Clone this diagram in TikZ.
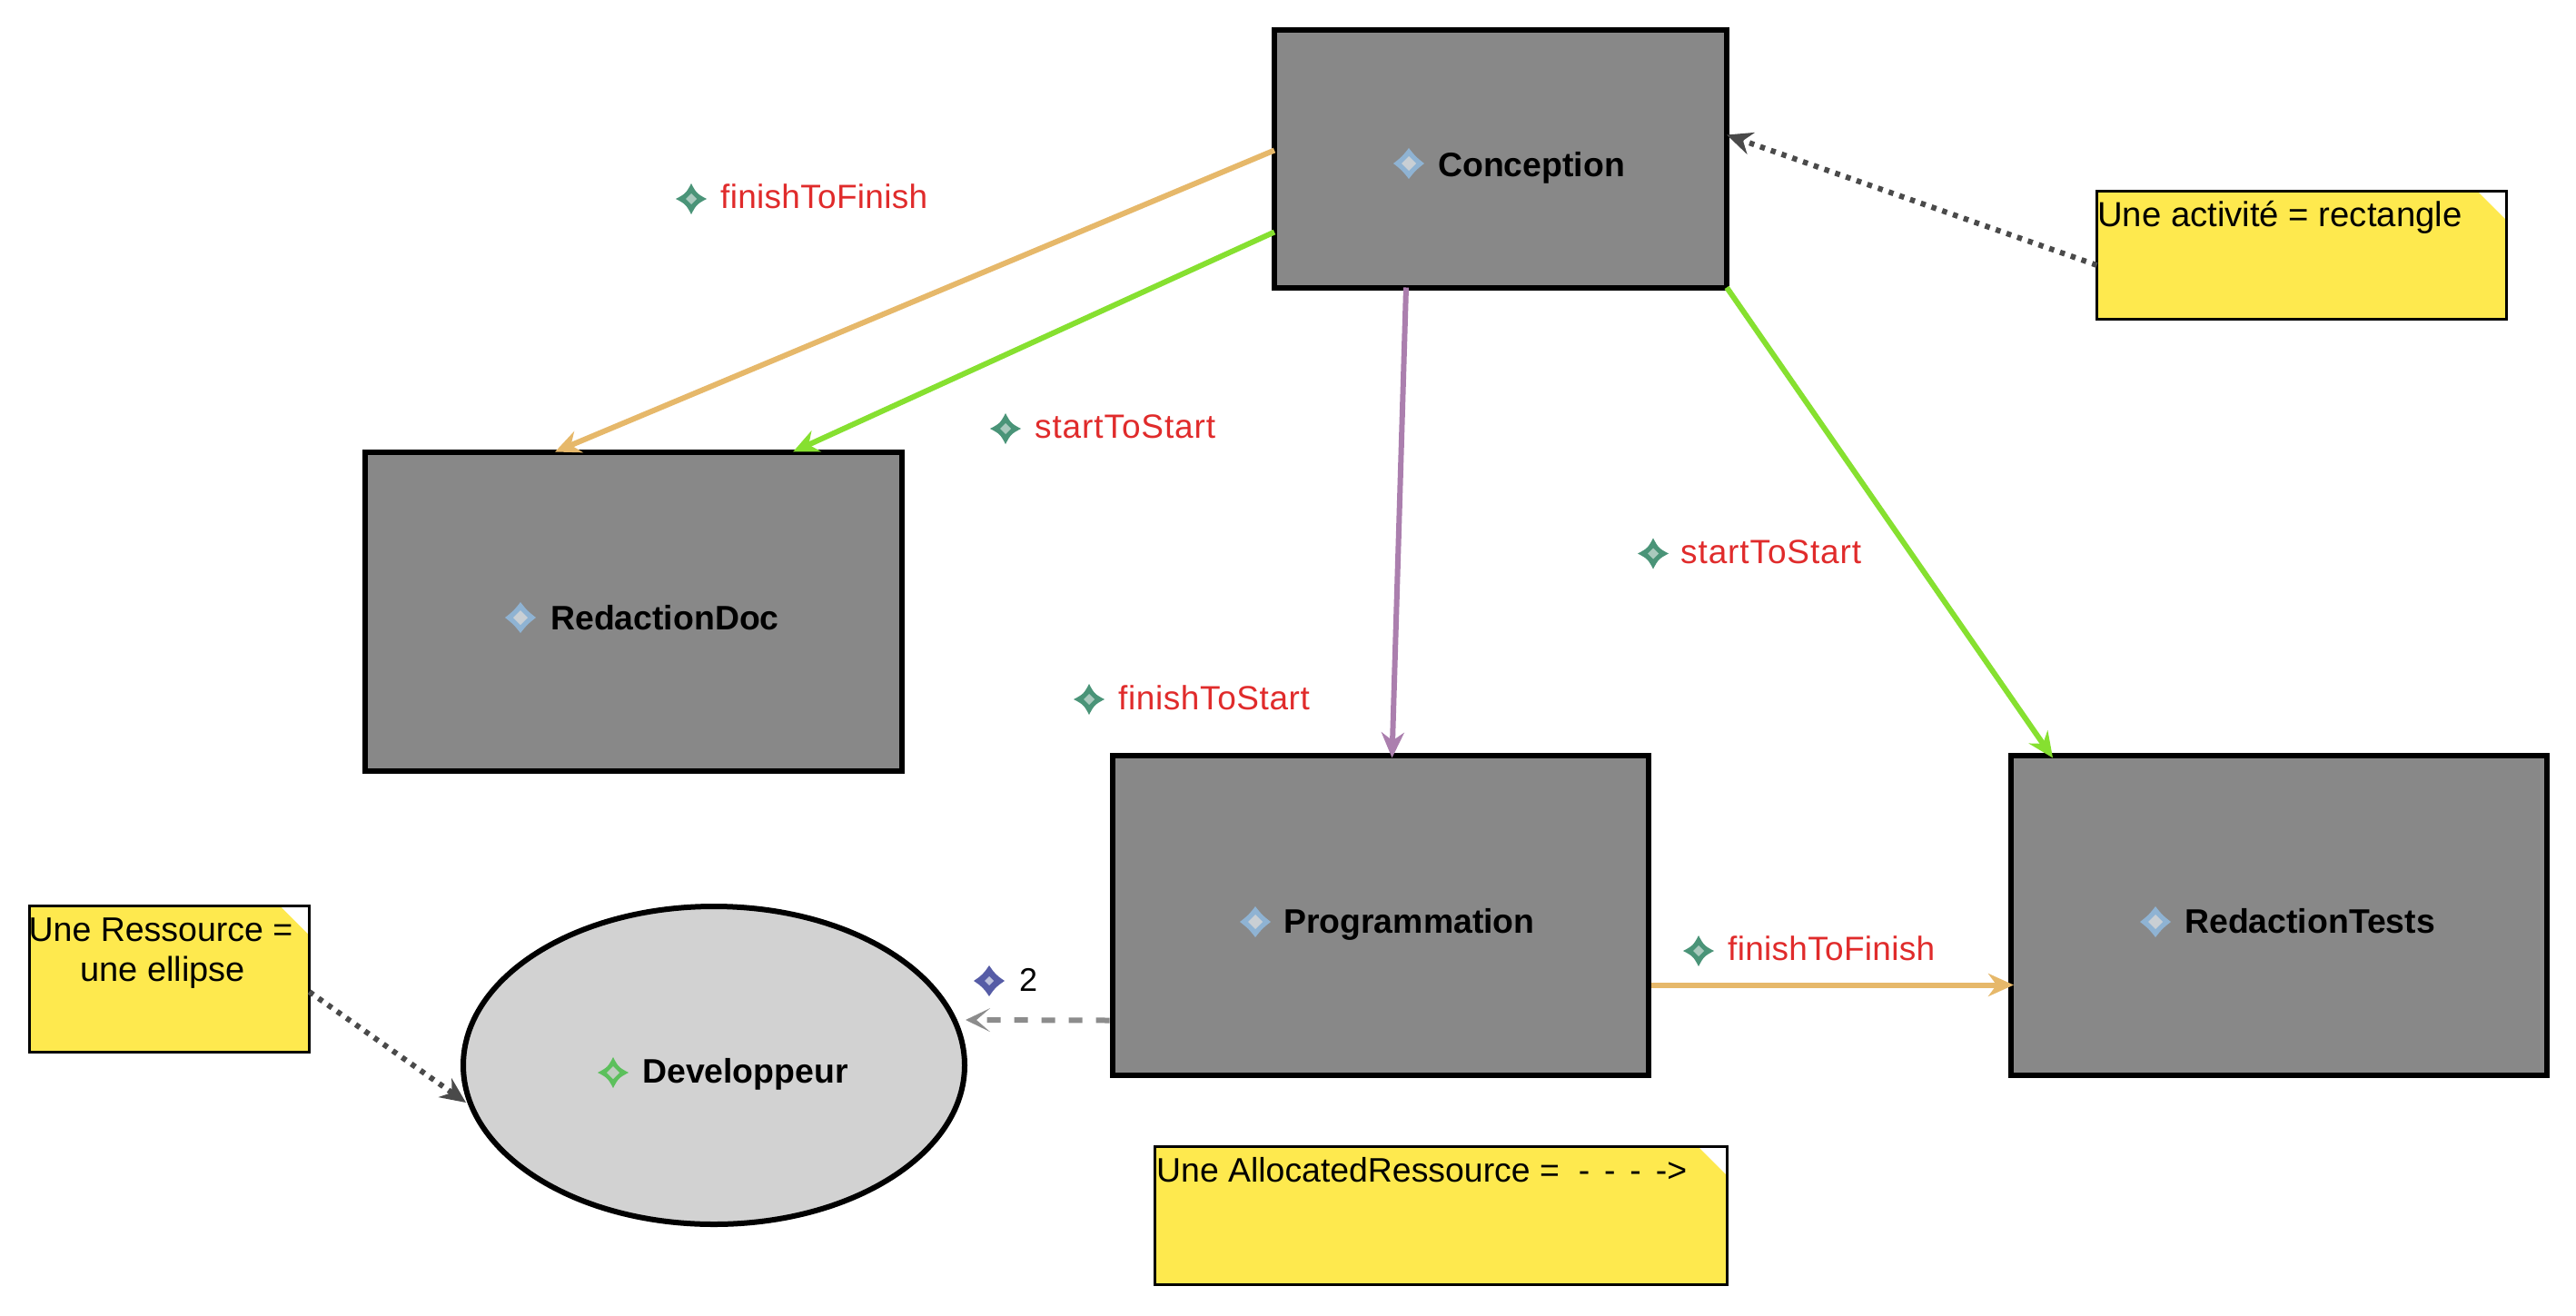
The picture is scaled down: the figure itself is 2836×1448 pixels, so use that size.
\documentclass[tikz,border=0pt]{standalone}
\usepackage{fontspec}
\setmainfont{Liberation Sans}
\usetikzlibrary{arrows.meta,shapes.geometric,calc}
\definecolor{actgray}{HTML}{888888}
\definecolor{resgray}{HTML}{D2D2D2}
\definecolor{noteyellow}{HTML}{FEE94E}
\definecolor{linkorange}{HTML}{E6B86A}
\definecolor{linkgreen}{HTML}{86E030}
\definecolor{linkpurple}{HTML}{AB7FAE}
\definecolor{linkdark}{HTML}{4A4A4A}
\definecolor{linkgray}{HTML}{8C8C8C}
\definecolor{labelred}{HTML}{E02B2B}
\definecolor{icoTeal}{HTML}{4A9478}
\definecolor{icoTealIn}{HTML}{A9C9BD}
\definecolor{icoBlue}{HTML}{8FB3D3}
\definecolor{icoBlueIn}{HTML}{C9CFD4}
\definecolor{icoGreen}{HTML}{5CC05C}
\definecolor{icoGreenIn}{HTML}{C0CCC0}
\definecolor{icoNavy}{HTML}{565CA6}
\definecolor{icoNavyIn}{HTML}{BCC0DC}
\newcommand{\fsize}[1]{\fontsize{#1}{#1}\selectfont}
% x, y, outer colour, inner colour, inner radius, pinch c, pinch d
\newcommand{\staricon}[7]{%
  \begin{scope}[shift={(#1,#2)}]
    \fill[#3] (-17,0) .. controls (-#6,-#7) and (-#7,-#6) .. (0,-17)
      .. controls (#7,-#6) and (#6,-#7) .. (17,0)
      .. controls (#6,#7) and (#7,#6) .. (0,17)
      .. controls (-#7,#6) and (-#6,#7) .. (-17,0) -- cycle;
    \fill[#4] (-#5,0) -- (0,-#5) -- (#5,0) -- (0,#5) -- cycle;
  \end{scope}}
\tikzset{
  x=1pt,y=-1pt,
  activity/.style={draw=black,fill=actgray,line width=6pt,rectangle,inner sep=0pt,outer sep=0pt},
  resource/.style={draw=black,fill=resgray,line width=6pt,ellipse,inner sep=0pt,outer sep=0pt,minimum width=552pt,minimum height=350pt},
  notebox/.style={draw=black,fill=noteyellow,line width=3pt,rectangle,inner sep=0pt,outer sep=0pt,
    path picture={\fill[white] ([xshift=-32pt]path picture bounding box.north east) -- (path picture bounding box.north east) -- ([yshift=-32pt]path picture bounding box.north east) -- cycle;}},
  boldtxt/.style={anchor=base west,inner sep=0pt,font=\fsize{37.4}\bfseries},
  redtxt/.style={anchor=base west,inner sep=0pt,text=labelred,font=\fsize{37}},
  plaintxt/.style={anchor=base west,inner sep=0pt,font=\fsize{38.3}},
  midtxt/.style={anchor=base,inner sep=0pt,font=\fsize{37.5}},
  tipped/.style={-{Stealth[length=28pt,width=25pt,inset=9pt]},line width=6pt},
  orangelink/.style={tipped,draw=linkorange},
  greenlink/.style={tipped,draw=linkgreen},
  purplelink/.style={tipped,draw=linkpurple},
  dotlink/.style={tipped,draw=linkdark,dash pattern=on 5.5pt off 7pt},
  dashlink/.style={-{Stealth[length=27pt,width=26pt,inset=15pt]},line width=6pt,draw=linkgray,dash pattern=on 15pt off 15pt},
}
\begin{document}
\begin{tikzpicture}
\useasboundingbox (0,0) rectangle (2836,1448);
% boxes
\node[activity,minimum width=498pt,minimum height=284pt] (conception) at (1652,174.5) {};
\node[activity,minimum width=591pt,minimum height=351pt] (redactiondoc) at (697.5,673) {};
\node[activity,minimum width=590pt,minimum height=352pt] (programmation) at (1519.5,1007.5) {};
\node[activity,minimum width=590pt,minimum height=352pt] (redactiontests) at (2509,1007.5) {};
\node[resource] (developpeur) at (786,1173) {};
\node[notebox,minimum width=451pt,minimum height=141pt] (noteactivite) at (2534,281) {};
\node[notebox,minimum width=308pt,minimum height=161pt] (noteressource) at (186.5,1078) {};
\node[notebox,minimum width=630pt,minimum height=152pt] (noteallocated) at (1586.5,1338.5) {};
% connectors
\draw[orangelink] ([yshift=9pt]conception.west) -- ([xshift=209pt]redactiondoc.north west);
\draw[greenlink] ([yshift=-81pt]conception.west) -- ([xshift=471pt]redactiondoc.north west);
\draw[purplelink] ([xshift=145pt]conception.south west) -- ([xshift=308pt,yshift=-3pt]programmation.north west);
\draw[greenlink] (conception.south east) -- ([xshift=46pt,yshift=-3pt]redactiontests.north west);
\draw[orangelink] ([xshift=3pt,yshift=-77pt]programmation.east) -- ([xshift=3pt,yshift=-77pt]redactiontests.west);
\draw[dotlink] ([yshift=-11pt]noteactivite.west) -- ([yshift=26pt]conception.east);
\draw[dotlink] ([yshift=-14pt]noteressource.east) -- ([xshift=3pt,yshift=-41pt]developpeur.west);
\draw[dashlink] ([xshift=-3pt,yshift=-116pt]programmation.west) -- ([xshift=1pt,yshift=50pt]developpeur.east);
% icons
\staricon{1551}{180}{icoBlue}{icoBlueIn}{8}{8}{7}
\staricon{573}{680}{icoBlue}{icoBlueIn}{8}{8}{7}
\staricon{1382}{1015}{icoBlue}{icoBlueIn}{8}{8}{7}
\staricon{2373}{1015}{icoBlue}{icoBlueIn}{8}{8}{7}
\staricon{675}{1181}{icoGreen}{icoGreenIn}{7}{6.5}{5.5}
\staricon{761}{219}{icoTeal}{icoTealIn}{6}{6.5}{5.5}
\staricon{1107}{472}{icoTeal}{icoTealIn}{6}{6.5}{5.5}
\staricon{1820}{609.5}{icoTeal}{icoTealIn}{6}{6.5}{5.5}
\staricon{1199}{770}{icoTeal}{icoTealIn}{6}{6.5}{5.5}
\staricon{1870}{1047}{icoTeal}{icoTealIn}{6}{6.5}{5.5}
\staricon{1089}{1080}{icoNavy}{icoNavyIn}{5}{7.5}{6.5}
% labels
\node[boldtxt] (lconception) at (1583,194) {Conception};
\node[boldtxt] (lredactiondoc) at (606,693) {RedactionDoc};
\node[boldtxt] (lprogrammation) at (1413,1027) {Programmation};
\node[boldtxt] (lredactiontests) at (2405,1027) {RedactionTests};
\node[boldtxt] (ldeveloppeur) at (707,1192) {Developpeur};
\node[redtxt] (lfinfin) at (793,229) {\addfontfeature{LetterSpace=0.8}finishToFinish};
\node[redtxt] (lstartone) at (1139,482.5) {\addfontfeature{LetterSpace=2.4}startToStart};
\node[redtxt] (lstarttwo) at (1850,620) {\addfontfeature{LetterSpace=2.4}startToStart};
\node[redtxt] (lfinstart) at (1231,781) {\addfontfeature{LetterSpace=1.6}finishToStart};
\node[redtxt] (lfinfintwo) at (1902,1057) {\addfontfeature{LetterSpace=0.8}finishToFinish};
\node[plaintxt,font=\fsize{36}] (lcount) at (1122,1091) {2};
\node[plaintxt] (tactivite) at (2309,249) {Une activité = rectangle};
\node[midtxt] (tressourceone) at (177,1036) {Une Ressource =};
\node[midtxt,font=\fsize{38}] (tressourcetwo) at (179,1080) {une ellipse};
\node[plaintxt,font=\fsize{37.4}] (tallocated) at (1273,1301) {Une AllocatedRessource =\ \ -\ \kern5.5pt-\ \kern5.5pt-\ \kern5.5pt->};
\end{tikzpicture}
\end{document}
